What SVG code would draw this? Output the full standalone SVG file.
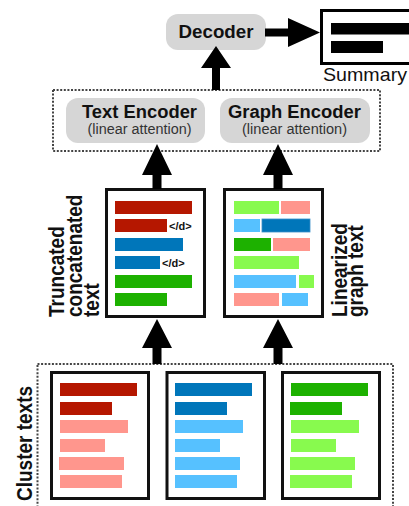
<svg xmlns="http://www.w3.org/2000/svg" width="409" height="506" viewBox="0 0 409 506">
<style>
.bg{fill:#fff}
.enc{fill:#d6d6d6}
.dot{fill:none;stroke:#444;stroke-width:2;stroke-dasharray:2 1.6}
.doc{fill:#fff;stroke:#111;stroke-width:3}
.t{font-family:"Liberation Sans",Arial,Helvetica,sans-serif;fill:#111}
.b{font-weight:bold}
.sub{font-size:14px;fill:#333}
.tag{font-size:11px;font-weight:bold}
.dr{fill:#b51700}.sa{fill:#ff968d}.bl{fill:#0076ba}.lb{fill:#56c1ff}.gr{fill:#1db100}.lg{fill:#88fa4e}
.arr{fill:#000}
</style>
<rect class="bg" x="0" y="0" width="409" height="506"/>

<g id="encoders-frame"><rect class="dot" x="53" y="90" width="327" height="61"/></g>
<g id="clusters-frame"><rect class="dot" x="37.5" y="364" width="355.5" height="150"/></g>

<g id="decoder">
<rect class="enc" x="166" y="14" width="100" height="36" rx="12"/>
<text class="t b" x="216" y="38" font-size="18" text-anchor="middle" textLength="75" lengthAdjust="spacingAndGlyphs">Decoder</text>
</g>

<g id="summary">
<rect x="321.5" y="10.5" width="100" height="53" fill="#fff" stroke="#000" stroke-width="3"/>
<rect x="331" y="23" width="90" height="11.5" fill="#000"/>
<rect x="331" y="41" width="52" height="12" fill="#000"/>
<text class="t" x="323" y="81" font-size="19" textLength="84" lengthAdjust="spacingAndGlyphs">Summary</text>
</g>

<g id="text-encoder">
<rect class="enc" x="66" y="98" width="139" height="45" rx="12"/>
<text class="t b" x="139.5" y="117.5" font-size="18" text-anchor="middle" textLength="115" lengthAdjust="spacingAndGlyphs">Text Encoder</text>
<text class="t sub" x="139.5" y="134" text-anchor="middle" textLength="104" lengthAdjust="spacingAndGlyphs">(linear attention)</text>
</g>

<g id="graph-encoder">
<rect class="enc" x="220" y="98" width="150" height="45" rx="12"/>
<text class="t b" x="294.5" y="117.5" font-size="18" text-anchor="middle" textLength="133" lengthAdjust="spacingAndGlyphs">Graph Encoder</text>
<text class="t sub" x="294.5" y="134" text-anchor="middle" textLength="105" lengthAdjust="spacingAndGlyphs">(linear attention)</text>
</g>

<g id="truncated-text">
<rect class="doc" x="106.5" y="189.5" width="98" height="127"/>
<rect class="dr" x="115" y="201" width="77" height="13"/>
<rect class="dr" x="115" y="219" width="52" height="13"/>
<text class="t tag" x="169" y="230">&lt;/d&gt;</text>
<rect class="bl" x="115" y="238" width="68" height="13"/>
<rect class="bl" x="115" y="256" width="45" height="13"/>
<text class="t tag" x="162" y="267">&lt;/d&gt;</text>
<rect class="gr" x="115" y="275" width="77" height="13"/>
<rect class="gr" x="115" y="293" width="52" height="13"/>
<text class="t b" font-size="19" transform="translate(64,317) scale(1.15,1) rotate(-90)">Truncated</text>
<text class="t b" font-size="19" transform="translate(81.5,317) scale(1.15,1) rotate(-90)">concatenated</text>
<text class="t b" font-size="19" transform="translate(99,317) scale(1.15,1) rotate(-90)">text</text>
</g>

<g id="graph-text">
<rect class="doc" x="224.5" y="189.5" width="98" height="127"/>
<rect class="lg" x="234" y="201" width="45" height="13"/>
<rect class="sa" x="281" y="201" width="29" height="13"/>
<rect class="lb" x="234" y="219" width="26" height="13"/>
<rect class="bl" x="262" y="219" width="48" height="13" stroke="#3a90c8" stroke-width="0.8"/>
<rect class="gr" x="234" y="238" width="37" height="13"/>
<rect class="sa" x="273" y="238" width="37" height="13"/>
<rect class="lg" x="234" y="256" width="65" height="13"/>
<rect class="lb" x="234" y="275" width="62" height="13"/>
<rect class="lg" x="299" y="275" width="15" height="13"/>
<rect class="sa" x="234" y="293" width="45" height="13"/>
<rect class="lb" x="282" y="293" width="26" height="13"/>
<text class="t b" font-size="19" transform="translate(347,317) scale(1.15,1) rotate(-90)">Linearized</text>
<text class="t b" font-size="19" transform="translate(363,317) scale(1.15,1) rotate(-90)">graph text</text>
</g>

<g id="cluster-doc-1">
<rect class="doc" x="51.5" y="372.5" width="97" height="126"/>
<rect class="dr" x="60" y="383" width="77" height="13"/>
<rect class="dr" x="60" y="402" width="52" height="13"/>
<rect class="sa" x="60" y="420" width="68" height="13"/>
<rect class="sa" x="60" y="439" width="45" height="13"/>
<rect class="sa" x="59" y="457" width="65" height="13"/>
<rect class="sa" x="60" y="475" width="62" height="13"/>
</g>
<g id="cluster-doc-2">
<rect class="doc" x="167" y="372.5" width="97.5" height="126"/>
<rect class="bl" x="175" y="383" width="77" height="13"/>
<rect class="bl" x="175" y="402" width="52" height="13"/>
<rect class="lb" x="175" y="420" width="68" height="13"/>
<rect class="lb" x="175" y="439" width="45" height="13"/>
<rect class="lb" x="175" y="457" width="65" height="13"/>
<rect class="lb" x="175" y="475" width="62" height="13"/>
</g>
<g id="cluster-doc-3">
<rect class="doc" x="282.5" y="372.5" width="97" height="126"/>
<rect class="gr" x="291" y="383" width="77" height="13"/>
<rect class="gr" x="290" y="402" width="52" height="13"/>
<rect class="lg" x="291" y="420" width="68" height="13"/>
<rect class="lg" x="291" y="439" width="45" height="13"/>
<rect class="lg" x="290" y="457" width="65" height="13"/>
<rect class="lg" x="290" y="475" width="62" height="13"/>
</g>
<g id="cluster-label">
<text class="t b" font-size="19" transform="translate(32,501) scale(1.15,1) rotate(-90)">Cluster texts</text>
</g>

<g id="connectors">
<polygon class="arr" points="216,46 231,68 220,68 220,90 212,90 212,68 201,68"/>
<polygon class="arr" points="320,32.5 288,18 288,28.5 265,28.5 265,36.5 288,36.5 288,47"/>
<polygon class="arr" points="157,144 172,175 161.5,175 161.5,189 152.5,189 152.5,175 142,175"/>
<polygon class="arr" points="278,144 293,175 282.5,175 282.5,189 273.5,189 273.5,175 263,175"/>
<polygon class="arr" points="157,319 172,348 161.5,348 161.5,364 152.5,364 152.5,348 142,348"/>
<polygon class="arr" points="278,319 293,348 282.5,348 282.5,364 273.5,364 273.5,348 263,348"/>
</g>
</svg>
